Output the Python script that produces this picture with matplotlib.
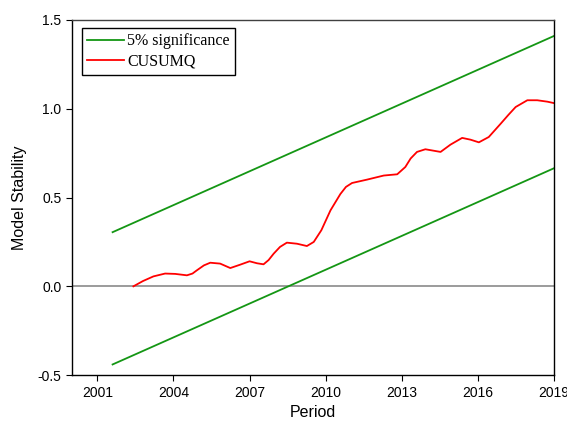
import numpy as np
import matplotlib
matplotlib.use("Agg")
import matplotlib.pyplot as plt

plt.rcParams['font.family'] = ['Liberation Sans', 'DejaVu Sans']

# 5% significance bounds (straight lines)
bound_years = [2001.6, 2019.0]
upper_bound = [0.305, 1.41]
lower_bound = [-0.44, 0.665]

# CUSUMQ path
cusum_years = [2002.42, 2002.8, 2003.21, 2003.67, 2004.07, 2004.53, 2004.75, 2004.92, 2005.2,
               2005.45, 2005.84, 2006.24, 2006.63, 2007.0, 2007.29, 2007.55, 2007.75, 2007.95,
               2008.2, 2008.47, 2008.87, 2009.26, 2009.53, 2009.83, 2010.19, 2010.58, 2010.8,
               2011.04, 2011.63, 2012.29, 2012.82, 2013.14, 2013.35, 2013.6, 2013.93, 2014.53,
               2014.92, 2015.38, 2015.71, 2016.04, 2016.43, 2016.9, 2017.2, 2017.49, 2017.95,
               2018.34, 2018.74, 2019.03]
cusum_vals = [0.0, 0.03, 0.056, 0.072, 0.07, 0.062, 0.072, 0.09, 0.118,
              0.133, 0.128, 0.103, 0.122, 0.141, 0.13, 0.124, 0.148, 0.184,
              0.222, 0.246, 0.24, 0.227, 0.25, 0.316, 0.428, 0.52, 0.56,
              0.582, 0.601, 0.624, 0.631, 0.672, 0.72, 0.757, 0.772, 0.757,
              0.798, 0.836, 0.826, 0.811, 0.841, 0.916, 0.965, 1.01, 1.048,
              1.048, 1.04, 1.031]

x_ticks = [2001, 2004, 2007, 2010, 2013, 2016, 2019]
y_ticks = [-0.5, 0.0, 0.5, 1.0, 1.5]

fig = plt.figure(figsize=(5.67, 4.21), dpi=100)
ax = fig.add_axes([0.127, 0.109, 0.85, 0.8435])

ax.axhline(0, color='#808080', lw=1.1, zorder=1)
ax.plot(bound_years, upper_bound, color='#149614', lw=1.3, label='5% significance')
ax.plot(bound_years, lower_bound, color='#149614', lw=1.3)
ax.plot(cusum_years, cusum_vals, color='#ff0000', lw=1.3, label='CUSUMQ')

ax.set_xlim(2000, 2019)
ax.set_ylim(-0.5, 1.5)
ax.set_xticks(x_ticks)
ax.set_yticks(y_ticks)
ax.set_yticklabels(['-0.5', '0.0', '0.5', '1.0', '1.5'])
ax.tick_params(direction='out', length=4, labelsize=10)
ax.spines['top'].set_color('#404040')
for s in ax.spines.values():
    s.set_linewidth(1.0)

ax.set_xlabel('Period', fontsize=11.5, labelpad=4)
ax.set_ylabel('Model Stability', fontsize=11.5, labelpad=8)

leg = ax.legend(loc='upper left', bbox_to_anchor=(0.02, 0.978), fancybox=False,
                edgecolor='black', framealpha=1, borderpad=0.35, borderaxespad=0,
                handlelength=2.3, handletextpad=0.2, labelspacing=0.25,
                prop={'family': ['Liberation Serif'], 'size': 11.5})
leg.get_frame().set_linewidth(1.0)

plt.savefig('out.png', dpi=100)
plt.close()
